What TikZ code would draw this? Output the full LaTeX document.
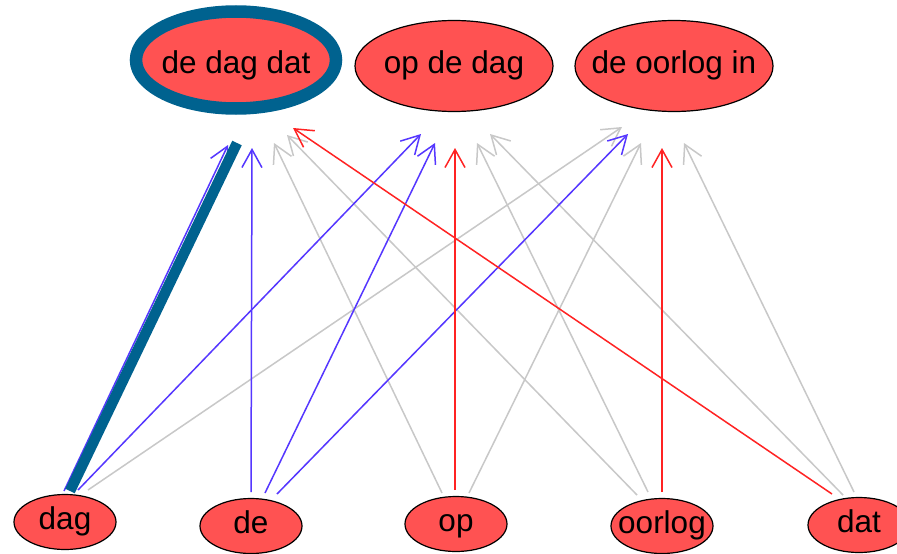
\documentclass[tikz,border=0pt]{standalone}
\usepackage{fontspec}
\setmainfont{Liberation Sans}
\usetikzlibrary{arrows.meta,shapes.geometric}
\definecolor{nodered}{RGB}{255,82,82}
\definecolor{edgeblue}{RGB}{85,55,255}
\definecolor{edgered}{RGB}{255,35,35}
\definecolor{edgegray}{RGB}{200,200,200}
\definecolor{ringblue}{RGB}{0,98,143}
% zero-width label box, so the ellipse size is set by minimum width/height only
\newcommand\lbl[1]{\makebox[0pt]{#1}}

\begin{document}
\begin{tikzpicture}[x=1pt,y=-1pt,
  vtx/.style={ellipse, draw=black, line width=1.2pt, fill=nodered, inner sep=0pt,
    font=\fontsize{31.5pt}{31.5pt}\selectfont, text height=22pt, text depth=7pt},
  topvtx/.style={vtx, minimum width=198pt, minimum height=91pt},
  botvtx/.style={vtx, minimum width=102pt, minimum height=55pt},
  edge/.style={line width=1.5pt, -{Straight Barb[length=18pt,width=20pt]}},
  eblue/.style={edge, draw=edgeblue},
  ered/.style={edge, draw=edgered},
  egray/.style={edge, draw=edgegray},
  highlight/.style={draw=ringblue, line width=10.5pt},
  ring/.style={draw=ringblue, line width=12.5pt}
]
\useasboundingbox (0,0) rectangle (897,554);
\fill[white] (0,0) rectangle (897,554);
\clip (0,0) rectangle (897,554);

% phrase nodes (top row)
\node[vtx, minimum width=194pt, minimum height=90pt, text height=32pt, text depth=6pt]
  (ddd) at (236,60) {\lbl{de dag dat}};
\node[topvtx] (odd) at (454,66) {\lbl{op de dag}};
\node[topvtx] (doi) at (674,66) {\lbl{de oorlog in}};

% word nodes (bottom row)
\node[botvtx] (dag)    at (65,522)  {\lbl{dag}};
\node[botvtx] (de)     at (251,526) {\lbl{de}};
\node[botvtx] (op)     at (456,524) {\lbl{op}};
\node[botvtx] (oorlog) at (662,526) {\lbl{oorlog}};
\node[botvtx] (dat)    at (859,525) {\lbl{dat}};

% grey edges
\draw[egray] ([shift={(23,-32)}]dag.center)    -- ([shift={(-52,61)}]doi.center);
\draw[egray] ([shift={(-14,-31)}]op.center)    -- ([shift={(38,83)}]ddd.center);
\draw[egray] ([shift={(13,-31)}]op.center)     -- ([shift={(-33,77)}]doi.center);
\draw[egray] ([shift={(-25,-31)}]oorlog.center) -- ([shift={(51,75)}]ddd.center);
\draw[egray] ([shift={(-14,-34)}]oorlog.center) -- ([shift={(23,77)}]odd.center);
\draw[egray] ([shift={(-16,-30)}]dat.center)   -- ([shift={(36,68)}]odd.center);
\draw[egray] ([shift={(-5,-33)}]dat.center)    -- ([shift={(10,77)}]doi.center);

% blue edges
\draw[eblue] ([shift={(-1,-31)}]dag.center) -- ([shift={(-8,85)}]ddd.center);
\draw[eblue] ([shift={(13,-32)}]dag.center) -- ([shift={(-33,68)}]odd.center);
\draw[eblue] ([shift={(0,-34)}]de.center)   -- ([shift={(16,88)}]ddd.center);
\draw[eblue] ([shift={(14,-33)}]de.center)  -- ([shift={(-19,77)}]odd.center);
\draw[eblue] ([shift={(26,-32)}]de.center)  -- ([shift={(-46,68)}]doi.center);

% red edges
\draw[ered] ([shift={(-1,-34)}]op.center)      -- ([shift={(1,82)}]odd.center);
\draw[ered] ([shift={(0,-34)}]oorlog.center)   -- ([shift={(-12,82)}]doi.center);
\draw[ered] ([shift={(-27,-31)}]dat.center)    -- ([shift={(57,68)}]ddd.center);

% highlighted edge and vertex
\draw[highlight] ([shift={(5,-31)}]dag.center) -- ([shift={(1,83)}]ddd.center);
\draw[ring] (ddd.center) ellipse [x radius=100pt, y radius=48.5pt];
\end{tikzpicture}
\end{document}
